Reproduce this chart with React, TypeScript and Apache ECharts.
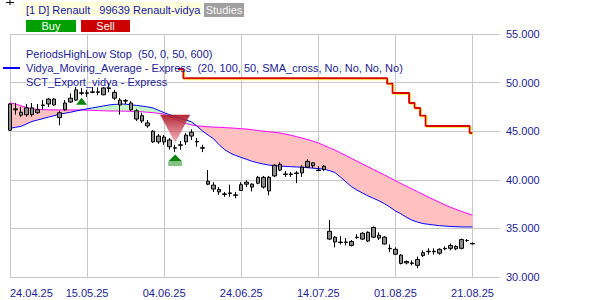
import React, { useEffect, useRef } from 'react';
import * as echarts from 'echarts';

// Trading days shown on the category axis
const dates = [
  '24.04.25', '25.04.25', '28.04.25', '29.04.25', '30.04.25', '02.05.25', '05.05.25', '06.05.25', '07.05.25', '08.05.25',
  '09.05.25', '12.05.25', '13.05.25', '14.05.25', '15.05.25', '16.05.25', '19.05.25', '20.05.25', '21.05.25', '22.05.25',
  '23.05.25', '26.05.25', '27.05.25', '28.05.25', '29.05.25', '30.05.25', '02.06.25', '03.06.25', '04.06.25', '05.06.25',
  '06.06.25', '09.06.25', '10.06.25', '11.06.25', '12.06.25', '13.06.25', '16.06.25', '17.06.25', '18.06.25', '19.06.25',
  '20.06.25', '23.06.25', '24.06.25', '25.06.25', '26.06.25', '27.06.25', '30.06.25', '01.07.25', '02.07.25', '03.07.25',
  '04.07.25', '07.07.25', '08.07.25', '09.07.25', '10.07.25', '11.07.25', '14.07.25', '15.07.25', '16.07.25', '17.07.25',
  '18.07.25', '21.07.25', '22.07.25', '23.07.25', '24.07.25', '25.07.25', '28.07.25', '29.07.25', '30.07.25', '31.07.25',
  '01.08.25', '04.08.25', '05.08.25', '06.08.25', '07.08.25', '08.08.25', '11.08.25', '12.08.25', '13.08.25', '14.08.25',
  '15.08.25', '18.08.25', '19.08.25', '20.08.25', '21.08.25',
];
// empty future space on the right of the chart
const futureDates = ['22.08.25', '25.08.25', '26.08.25', '27.08.25', '28.08.25'];
const tickEvery = 14;

// [open, close, low, high]
const ohlc = [
  [45.1, 47.8, 45.0, 47.9], [47.3, 47.2, 46.7, 47.9], [46.95, 46.65, 46.45, 47.5], [46.7, 47.4, 46.5, 47.8],
  [47.4, 46.7, 46.5, 47.9], [46.9, 47.2, 46.8, 47.8], [47.65, 47.7, 47.2, 48.2], [47.8, 48.3, 47.5, 48.4],
  [48.3, 47.7, 47.6, 48.4], [46.9, 46.4, 45.6, 47.1], [47.2, 47.9, 47.1, 48.2], [48.0, 48.4, 47.9, 48.9],
  [48.2, 49.25, 48.1, 49.55], [48.9, 48.95, 48.7, 49.45], [48.95, 48.9, 48.5, 49.25], [49.0, 49.05, 48.9, 49.55],
  [49.05, 49.0, 48.7, 49.5], [48.75, 49.45, 48.7, 49.55], [49.4, 49.45, 49.0, 49.95], [49.0, 48.4, 48.2, 49.25],
  [48.2, 47.7, 46.7, 48.4], [48.1, 48.15, 47.8, 48.3], [47.9, 47.2, 47.1, 48.1], [47.1, 46.25, 46.05, 47.3],
  [46.6, 46.05, 45.85, 46.9], [45.85, 45.55, 45.35, 46.15], [45.0, 43.9, 43.8, 45.1], [43.9, 44.5, 43.7, 44.7],
  [44.4, 43.9, 43.6, 44.6], [44.1, 43.4, 43.1, 44.3], [43.25, 43.3, 42.85, 43.6], [43.55, 43.6, 43.1, 44.0],
  [43.9, 44.6, 43.6, 44.8], [44.5, 44.9, 44.1, 45.2], [43.9, 43.95, 43.4, 44.3], [43.3, 43.25, 42.85, 43.6],
  [39.55, 39.85, 39.45, 41.0], [39.45, 39.05, 38.75, 39.75], [39.0, 38.75, 38.45, 39.25], [38.55, 38.5, 38.25, 38.75],
  [38.6, 38.65, 38.25, 39.5], [38.45, 38.4, 38.1, 38.75], [38.9, 39.5, 38.9, 39.75], [39.55, 39.75, 39.25, 39.95],
  [39.55, 39.25, 38.8, 39.65], [39.65, 40.25, 39.55, 40.4], [40.25, 39.25, 39.1, 40.4], [38.85, 40.25, 38.4, 40.4],
  [40.4, 41.5, 40.3, 41.6], [41.0, 41.6, 40.9, 41.8], [40.6, 40.55, 40.3, 40.9], [40.55, 40.6, 40.3, 40.8],
  [40.65, 40.7, 39.65, 40.9], [40.7, 41.3, 40.3, 41.5], [41.3, 41.9, 41.2, 42.1], [41.75, 41.45, 41.2, 41.8],
  [41.0, 40.95, 40.9, 41.4], [41.05, 41.4, 40.9, 41.5], [34.7, 33.9, 33.8, 35.85], [34.1, 33.6, 33.05, 34.2],
  [33.6, 33.55, 33.35, 34.2], [33.55, 33.6, 33.25, 34.0], [33.65, 33.25, 33.15, 33.8], [34.05, 34.1, 33.9, 34.4],
  [33.9, 34.5, 33.8, 34.6], [33.7, 34.6, 33.6, 34.7], [34.1, 35.1, 34.0, 35.2], [34.3, 34.0, 33.8, 34.6],
  [34.1, 33.4, 33.35, 34.2], [32.95, 32.9, 32.55, 33.35], [32.85, 32.35, 32.25, 33.05], [32.25, 31.4, 31.3, 32.35],
  [31.6, 31.45, 31.3, 31.7], [31.4, 31.45, 31.2, 31.7], [31.2, 31.8, 30.9, 32.1], [32.2, 32.5, 32.05, 32.75],
  [32.6, 32.65, 32.3, 32.95], [32.65, 32.6, 32.3, 32.95], [32.45, 32.85, 32.3, 32.95], [32.9, 32.95, 32.75, 33.15],
  [32.95, 33.25, 32.75, 33.45], [33.15, 32.9, 32.75, 33.25], [32.95, 33.85, 32.85, 33.95], [33.75, 33.75, 33.6, 33.9],
  [33.45, 33.41, 33.35, 33.55],
];
const lastPrice = 33.41;

// Vidya moving average (blue)
const vidya = [
  45.3, 45.4, 45.5, 45.75, 46.0, 46.15, 46.3, 46.45, 46.6, 46.75,
  46.85, 46.95, 47.08, 47.19, 47.3, 47.4, 47.5, 47.6, 47.7, 47.75,
  47.8, 47.78, 47.72, 47.65, 47.58, 47.5, 47.39, 47.15, 46.9, 46.7,
  46.5, 46.3, 46.15, 45.95, 45.5, 45.0, 44.6, 44.2, 43.6, 43.1,
  42.75, 42.5, 42.3, 42.1, 41.9, 41.75, 41.62, 41.52, 41.45, 41.41,
  41.38, 41.35, 41.32, 41.3, 41.25, 41.2, 41.15, 41.1, 40.95, 40.75,
  40.3, 39.8, 39.3, 38.95, 38.65, 38.35, 38.1, 37.85, 37.55, 37.2,
  36.8, 36.5, 36.15, 35.85, 35.65, 35.5, 35.42, 35.35, 35.28, 35.24,
  35.2, 35.17, 35.15, 35.15, 35.15,
];
// reference average (magenta)
const reference = [
  47.9, 47.8, 47.6, 47.45, 47.3, 47.25, 47.22, 47.2, 47.2, 47.19,
  47.19, 47.19, 47.19, 47.18, 47.16, 47.14, 47.12, 47.1, 47.08, 47.08,
  47.07, 47.06, 47.04, 47.02, 47.0, 46.95, 46.9, 46.84, 46.75, 46.5,
  46.25, 46.0, 45.78, 45.65, 45.55, 45.5, 45.45, 45.42, 45.4, 45.37,
  45.34, 45.3, 45.26, 45.22, 45.15, 45.07, 45.0, 44.95, 44.88, 44.82,
  44.7, 44.58, 44.45, 44.3, 44.15, 43.98, 43.78, 43.55, 43.3, 43.06,
  42.78, 42.5, 42.2, 41.92, 41.63, 41.35, 41.06, 40.78, 40.5, 40.2,
  39.9, 39.62, 39.34, 39.06, 38.78, 38.5, 38.22, 37.95, 37.68, 37.42,
  37.18, 36.96, 36.75, 36.55, 36.36,
];

// PeriodsHighLow stop: [fromIndex, toIndex, level]
const stopLongSteps = [[13, 30, 40.48]];
const stopShortSteps = [
  [31, 31, 51.4], [32, 68, 50.45], [69, 69, 49.87], [70, 72, 48.94], [73, 73, 47.91],
  [74, 74, 47.39], [75, 75, 46.6], [76, 83, 45.54], [84, 84, 44.81],
];

// signals (bar index)
const buySignals = [13];
const coverSignals = [30];
const sellSignals = [30];

const headerText = '[1 D] Renault   99639 Renault-vidya';
const legendLines = [
  'PeriodsHighLow Stop  (50, 0, 50, 600)',
  'Vidya_Moving_Average - Express  (20, 100, 50, SMA_cross, No, No, No, No)',
  'SCT_Export_vidya - Express',
];

const FONT = '"Liberation Sans", Arial, sans-serif';
const LABEL_COLOR = '#1c1c96';
const GRID_COLOR = '#c8c8c8';

function stepsToData(steps: number[][]) {
  const out: (number | null)[] = dates.map(() => null);
  steps.forEach(([a, b, v]) => {
    for (let i = a; i <= b; i++) out[i] = v;
  });
  return out;
}

export default function App() {
  const ref = useRef<HTMLDivElement>(null);
  useEffect(() => {
    if (!ref.current) return;
    const chart = echarts.init(ref.current, undefined, { renderer: 'svg' });
    const categories = [...dates, ...futureDates];
    const showTick = (i: number) => i % tickEvery === 0 && i < dates.length;
    const lower = vidya.map((b, i) => Math.min(b, reference[i]));
    const pinkBand = vidya.map((b, i) => Math.max(reference[i] - b, 0));
    const greenBand = vidya.map((b, i) => Math.max(b - reference[i], 0));
    const stopStyle = {
      color: '#dd0000',
      width: 2,
      shadowColor: '#f4f060',
      shadowOffsetX: 1,
      shadowOffsetY: 1,
      shadowBlur: 0,
    };
    const text = (t: string, x: number, y: number, fill: string, align = 'left') => ({
      type: 'text',
      x,
      y,
      z: 100,
      style: { text: t, fill, fontSize: 11, fontFamily: FONT, verticalAlign: 'middle', align },
    });
    chart.setOption({
      animation: false,
      backgroundColor: '#ffffff',
      grid: { left: 10, right: 100, top: 34, bottom: 23, containLabel: false },
      xAxis: {
        type: 'category',
        data: categories,
        boundaryGap: false,
        axisLine: { show: false },
        axisTick: { show: false },
        axisLabel: {
          interval: (i: number) => showTick(i),
          color: LABEL_COLOR,
          fontSize: 11,
          fontFamily: FONT,
          margin: 10,
          alignMinLabel: 'left',
        },
        splitLine: { show: true, interval: (i: number) => showTick(i), lineStyle: { color: GRID_COLOR, width: 1 } },
      },
      yAxis: {
        type: 'value',
        position: 'right',
        min: 30,
        max: 55,
        interval: 5,
        axisLine: { show: false },
        axisTick: { show: false },
        axisLabel: {
          formatter: (v: number) => v.toFixed(3),
          color: LABEL_COLOR,
          fontSize: 11,
          fontFamily: FONT,
          margin: 6,
        },
        splitLine: { lineStyle: { color: GRID_COLOR, width: 1 } },
      },
      series: [
        { type: 'line', stack: 'band', data: lower, symbol: 'none', lineStyle: { opacity: 0 }, z: 1, silent: true },
        { type: 'line', stack: 'band', data: pinkBand, symbol: 'none', lineStyle: { opacity: 0 }, areaStyle: { color: '#ffc0c0', opacity: 1 }, z: 1, silent: true },
        { type: 'line', stack: 'band', data: greenBand, symbol: 'none', lineStyle: { opacity: 0 }, areaStyle: { color: '#c4f8c4', opacity: 1 }, z: 1, silent: true },
        { type: 'line', name: 'reference', data: reference, symbol: 'none', lineStyle: { color: '#ff00ff', width: 1 }, z: 2 },
        { type: 'line', name: 'Vidya', data: vidya, symbol: 'none', lineStyle: { color: '#0000ff', width: 1 }, z: 2 },
        { type: 'line', name: 'stopLong', data: stepsToData(stopLongSteps), step: 'middle', symbol: 'none', connectNulls: false, lineStyle: stopStyle, z: 3 },
        { type: 'line', name: 'stopShort', data: stepsToData(stopShortSteps), step: 'middle', symbol: 'none', connectNulls: false, lineStyle: stopStyle, z: 3 },
        {
          type: 'candlestick',
          data: ohlc,
          barWidth: 4,
          clip: false,
          z: 4,
          itemStyle: { color: '#8c8c8c', color0: '#8c8c8c', borderColor: '#000000', borderColor0: '#000000', borderWidth: 1 },
          markLine: {
            silent: true,
            symbol: 'none',
            data: [{ yAxis: lastPrice }],
            lineStyle: { opacity: 0 },
            label: {
              show: true,
              position: 'end',
              distance: 3,
              formatter: () => lastPrice.toFixed(3),
              color: LABEL_COLOR,
              fontSize: 11,
              fontFamily: FONT,
              backgroundColor: '#ffffc8',
              borderColor: '#707070',
              borderWidth: 1,
              padding: [1, 2, 0, 2],
            },
          },
        },
        {
          type: 'scatter',
          data: sellSignals.map((i) => [i, ohlc[i][3]]),
          symbol: 'path://M0,0L30,0L15,28Z',
          symbolSize: [30, 28],
          symbolOffset: [0, -16],
          z: 5,
          itemStyle: {
            opacity: 1,
            color: new echarts.graphic.LinearGradient(0, 0, 0, 1, [
              { offset: 0, color: 'rgba(170,20,35,0.92)' },
              { offset: 1, color: 'rgba(235,120,135,0.6)' },
            ]),
          },
        },
        {
          type: 'scatter',
          data: buySignals.map((i) => [i, ohlc[i][2]]),
          symbol: 'triangle',
          symbolSize: [11, 7],
          symbolOffset: [0, 6],
          z: 5,
          itemStyle: { color: '#0a840a', opacity: 1 },
        },
        {
          type: 'scatter',
          data: coverSignals.map((i) => [i, ohlc[i][2]]),
          symbol: 'path://M7,0L14,7L0,7Z M0,8H14V9H0Z M0,10H14V11H0Z',
          symbolSize: [14, 11],
          symbolOffset: [0, 8],
          z: 5,
          itemStyle: { color: '#0a840a', opacity: 1 },
        },
      ],
      graphic: [
        { type: 'rect', z: 99, shape: { x: 22, y: 2, width: 180, height: 14 }, style: { fill: '#ffffdc' } },
        text(headerText, 26, 9.5, '#1414a8'),
        { type: 'rect', z: 99, shape: { x: 204, y: 3, width: 40, height: 14 }, style: { fill: '#a0a0a0' } },
        text('Studies', 224, 10, '#f6f6f6', 'center'),
        { type: 'rect', z: 99, shape: { x: 26, y: 20, width: 50, height: 12 }, style: { fill: '#00a000' } },
        text('Buy', 51, 26, '#ffffff', 'center'),
        { type: 'rect', z: 99, shape: { x: 81, y: 20, width: 49, height: 12 }, style: { fill: '#cc0000' } },
        text('Sell', 105.5, 26, '#ffffff', 'center'),
        { type: 'line', z: 99, shape: { x1: 6, y1: 2.5, x2: 14, y2: 2.5 }, style: { stroke: '#000', lineWidth: 1 } },
        { type: 'line', z: 99, shape: { x1: 10, y1: 0, x2: 10, y2: 5 }, style: { stroke: '#000', lineWidth: 1 } },
        ...legendLines.map((t, k) => text(t, 26, 54 + k * 14, LABEL_COLOR)),
        { type: 'line', z: 100, shape: { x1: 3, y1: 68, x2: 20, y2: 68 }, style: { stroke: '#0000ff', lineWidth: 2 } },
      ],
    });
    return () => chart.dispose();
  }, []);
  return <div ref={ref} style={{ position: 'absolute', left: 0, top: 0, width: 600, height: 300 }} />;
}
